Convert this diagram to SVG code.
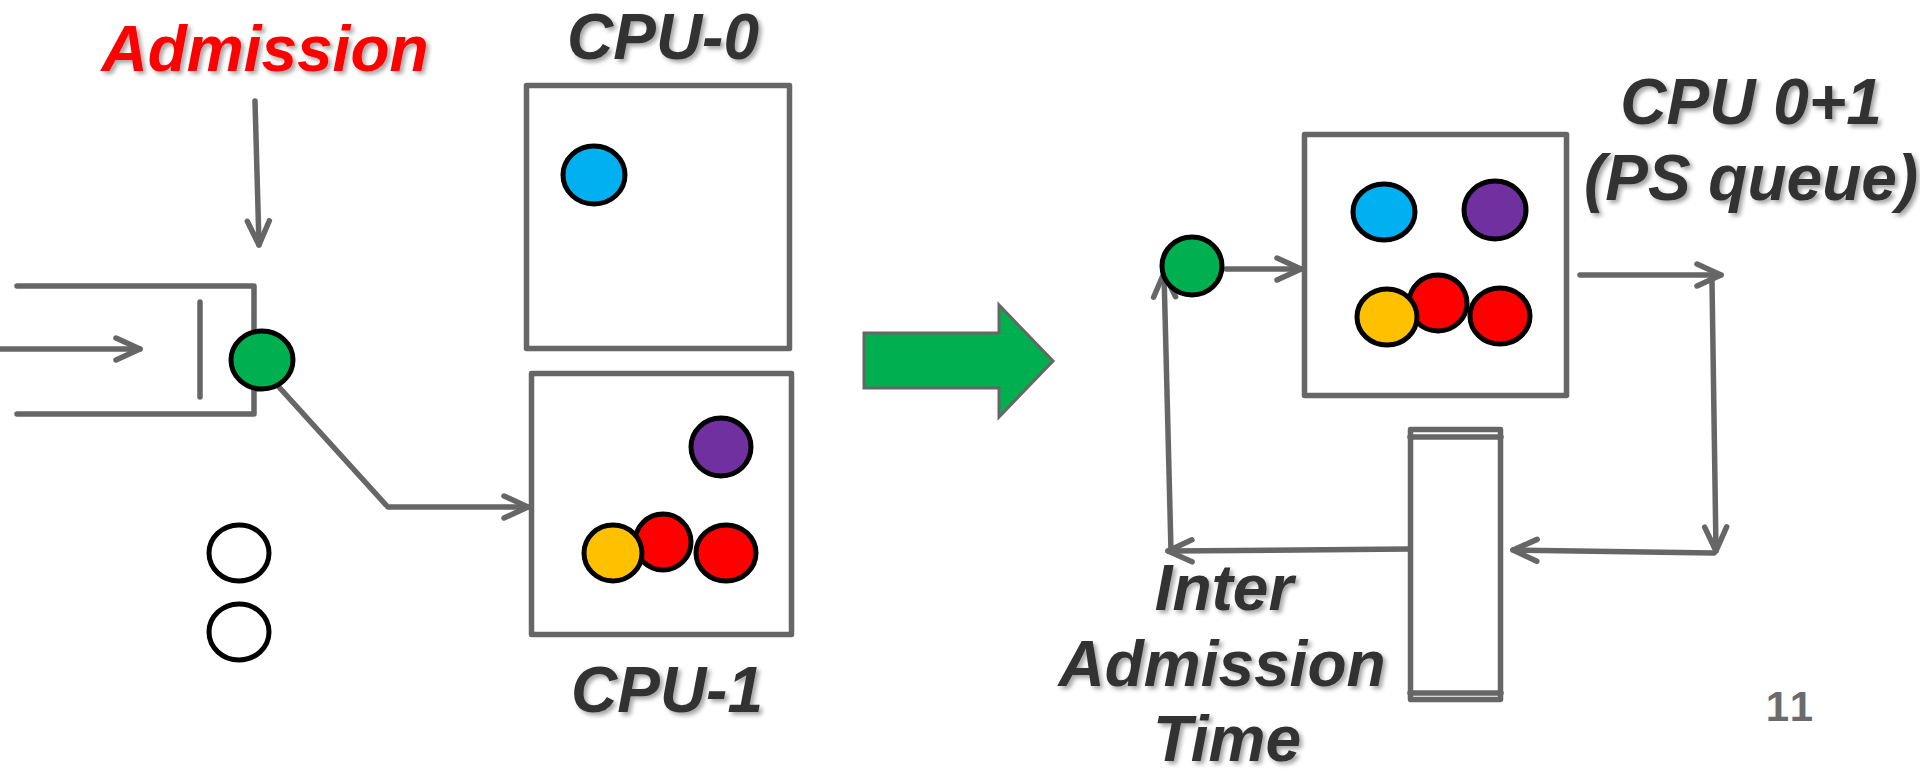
<svg xmlns="http://www.w3.org/2000/svg" width="1920" height="773" viewBox="0 0 1920 773">
  <defs>
    <style>
      .line { fill: none; stroke: #666666; stroke-width: 5.5; stroke-linecap: round; stroke-linejoin: round; }
      .box { fill: #ffffff; stroke: #666666; stroke-width: 5.5; stroke-linejoin: round; }
      .job { stroke: #000000; stroke-width: 5; }
      .title { font-family: "Liberation Sans", Arial, sans-serif; font-weight: bold; font-style: italic; font-size: 64px; fill: #333333; text-anchor: middle; }
      .red { fill: #ff0000; }
      .page { font-family: "Liberation Sans", Arial, sans-serif; font-weight: bold; font-size: 42px; fill: #6b6b6b; text-anchor: middle; letter-spacing: 3px; }
    </style>
    <filter id="shadow" x="-10%" y="-20%" width="130%" height="150%">
      <feDropShadow dx="3" dy="3" stdDeviation="2" flood-color="#000000" flood-opacity="0.35"/>
    </filter>
    <marker id="arrow" markerUnits="userSpaceOnUse" viewBox="-30 -16 36 32" refX="0" refY="0" markerWidth="36" markerHeight="32" orient="auto">
      <path d="M-24,-11 L0,0 L-24,11" fill="none" stroke="#666666" stroke-width="5.5" stroke-linecap="round" stroke-linejoin="round"/>
    </marker>
  </defs>

  <rect width="1920" height="773" fill="#ffffff"/>

  <!-- labels -->
  <g id="labels" filter="url(#shadow)">
    <text class="title red" x="265" y="71">Admission</text>
    <text class="title" x="663" y="59">CPU-0</text>
    <text class="title" x="667" y="712">CPU-1</text>
    <text class="title" x="1751" y="124">CPU 0+1</text>
    <text class="title" x="1751" y="200">(PS queue)</text>
    <text class="title" x="1224" y="610">Inter</text>
    <text class="title" x="1222" y="686">Admission</text>
    <text class="title" x="1227" y="761">Time</text>
  </g>

  <!-- incoming queue with its gate -->
  <g id="queue">
    <path class="line" d="M17,286 H254 V414 H17" stroke-linecap="butt" stroke-linejoin="miter"/>
    <path class="line" d="M200,302 V397" stroke-linecap="butt"/>
  </g>

  <!-- connectors -->
  <g id="connectors">
    <path class="line" d="M255,101 L259,245" marker-end="url(#arrow)"/>
    <path class="line" d="M0,349 L140,349" marker-end="url(#arrow)"/>
    <path class="line" d="M278,386 L386,505"/>
    <path class="line" d="M388,507 L528,507" marker-end="url(#arrow)"/>
    <path class="line" d="M1226,269 L1301,269" marker-end="url(#arrow)"/>
    <path class="line" d="M1580,275 L1721,275" marker-end="url(#arrow)"/>
    <path class="line" d="M1712,281 L1716,551" marker-end="url(#arrow)"/>
    <path class="line" d="M1714,553 L1513,550" marker-end="url(#arrow)"/>
    <path class="line" d="M1409,549 L1168,551" marker-end="url(#arrow)"/>
    <path class="line" d="M1171,551 L1164,273" marker-end="url(#arrow)"/>
  </g>

  <!-- admitted job at the gate -->
  <g id="gate-job">
    <ellipse class="job" cx="262" cy="360" rx="31" ry="29" fill="#00b050"/>
  </g>

  <!-- waiting jobs -->
  <g id="waiting-jobs">
    <ellipse class="job" cx="239" cy="553" rx="30" ry="28" fill="#ffffff"/>
    <ellipse class="job" cx="239" cy="632" rx="30" ry="28" fill="#ffffff"/>
  </g>

  <!-- CPU-0 -->
  <g id="cpu0">
    <rect class="box" x="526.5" y="85.5" width="263" height="263"/>
    <ellipse class="job" cx="594" cy="175" rx="31" ry="29" fill="#00b0f0"/>
  </g>

  <!-- CPU-1 -->
  <g id="cpu1">
    <rect class="box" x="531.5" y="373.5" width="260" height="261"/>
    <ellipse class="job" cx="721" cy="447" rx="30" ry="29" fill="#7030a0"/>
    <ellipse class="job" cx="663" cy="542" rx="28" ry="28" fill="#ff0000"/>
    <ellipse class="job" cx="613" cy="553" rx="29" ry="28" fill="#ffc000"/>
    <ellipse class="job" cx="726" cy="553" rx="30" ry="28" fill="#ff0000"/>
  </g>

  <!-- transformation arrow -->
  <g id="transform-arrow">
    <polygon points="864,333 999,333 999,305 1053,361 999,417 999,388 864,388" fill="#00b050" stroke="#666666" stroke-width="3"/>
  </g>

  <!-- job entering the shared queue -->
  <g id="ps-entry-job">
    <ellipse class="job" cx="1192" cy="266" rx="30" ry="29" fill="#00b050"/>
  </g>

  <!-- CPU 0+1 processor-sharing queue -->
  <g id="ps-queue">
    <rect class="box" x="1304.5" y="134.5" width="262" height="261"/>
    <ellipse class="job" cx="1384" cy="212" rx="31" ry="28" fill="#00b0f0"/>
    <ellipse class="job" cx="1495" cy="210" rx="31" ry="29" fill="#7030a0"/>
    <ellipse class="job" cx="1438" cy="303" rx="29" ry="28" fill="#ff0000"/>
    <ellipse class="job" cx="1387" cy="317" rx="30" ry="28" fill="#ffc000"/>
    <ellipse class="job" cx="1500" cy="316" rx="30" ry="28" fill="#ff0000"/>
  </g>

  <!-- inter-admission delay element -->
  <g id="delay">
    <rect class="box" x="1410.5" y="429.5" width="90" height="270" stroke-width="4.5"/>
    <path class="line" d="M1410,437 H1501 M1410,693 H1501" stroke-width="3.5" stroke-linecap="butt"/>
  </g>

  <!-- slide number -->
  <text class="page" x="1791" y="721">11</text>
</svg>
